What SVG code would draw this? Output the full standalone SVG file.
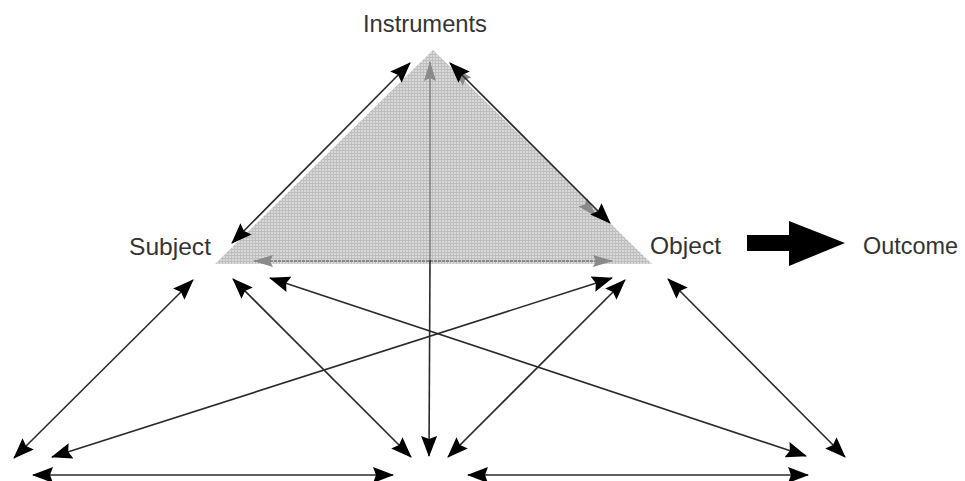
<svg xmlns="http://www.w3.org/2000/svg" width="965" height="481" viewBox="0 0 965 481">
<style>
  .lbl { font-family: "Liberation Sans", Arial, sans-serif; font-size: 24px; fill: #333; }
  .ln { stroke: #2a2a2a; stroke-width: 1.6; fill: none; marker-start: url(#ah); marker-end: url(#ah); }
  .gl { stroke: #777; stroke-width: 1.3; fill: none; stroke-dasharray: 3 1; }
</style>
<defs>
  <marker id="ah" markerUnits="userSpaceOnUse" markerWidth="21" markerHeight="16" refX="20" refY="8" orient="auto-start-reverse">
    <path d="M0,0 L21,8 L0,16 L3,8 z" fill="#000"/>
  </marker>
  <marker id="gah" markerUnits="userSpaceOnUse" markerWidth="20" markerHeight="14" refX="19" refY="7" orient="auto-start-reverse">
    <path d="M0,1 L20,7 L0,13 L3,7 z" fill="#8a8a8a"/>
  </marker>
  <pattern id="hatch" width="3" height="3" patternUnits="userSpaceOnUse">
    <rect width="3" height="3" fill="#d8d8d8"/>
    <rect width="3" height="1" fill="#bcbcbc"/>
    <rect width="1" height="3" fill="#c0c0c0"/>
  </pattern>
</defs>

<g id="instruments">
  <polygon points="433,50 215,264 652,264" fill="url(#hatch)"/>
  <text class="lbl" x="363" y="32" textLength="124" lengthAdjust="spacingAndGlyphs">Instruments</text>
</g>
<g id="subject">
  <text class="lbl" x="129" y="255" textLength="82" lengthAdjust="spacingAndGlyphs">Subject</text>
</g>
<g id="object">
  <text class="lbl" x="650" y="254" textLength="71" lengthAdjust="spacingAndGlyphs">Object</text>
</g>
<g id="outcome">
  <text class="lbl" x="863" y="254" textLength="95" lengthAdjust="spacingAndGlyphs">Outcome</text>
</g>

<g id="connectors">
  <!-- inner gray arrows -->
  <line class="gl" x1="254" y1="261" x2="612" y2="261" marker-start="url(#gah)" marker-end="url(#gah)"/>
  <line x1="430" y1="260" x2="430" y2="62" stroke="#777" stroke-width="1.3" marker-end="url(#gah)"/>
  <line x1="596" y1="216" x2="454" y2="68" stroke="none" marker-start="url(#gah)" marker-end="url(#gah)"/>
  <!-- triangle edge arrows -->
  <line class="ln" x1="410" y1="63" x2="232" y2="243"/>
  <line class="ln" x1="450" y1="63" x2="610" y2="223"/>
  <!-- vertical -->
  <line x1="430" y1="260" x2="429" y2="456" stroke="#2a2a2a" stroke-width="1.6" marker-end="url(#ah)"/>
  <!-- lower crossing arrows -->
  <line class="ln" x1="193" y1="280" x2="14" y2="458"/>
  <line class="ln" x1="233" y1="279" x2="411" y2="457"/>
  <line class="ln" x1="270" y1="278" x2="806" y2="456"/>
  <line class="ln" x1="612" y1="278" x2="52" y2="457"/>
  <line class="ln" x1="625" y1="280" x2="448" y2="457"/>
  <line class="ln" x1="668" y1="279" x2="845" y2="457"/>
  <!-- bottom horizontals -->
  <line class="ln" x1="33" y1="475" x2="393" y2="475"/>
  <line class="ln" x1="468" y1="475" x2="808" y2="475"/>
  <!-- big outcome arrow -->
  <polygon points="747,235 789,235 789,221 845,243 789,266 789,251 747,251" fill="#000"/>
</g>
</svg>
